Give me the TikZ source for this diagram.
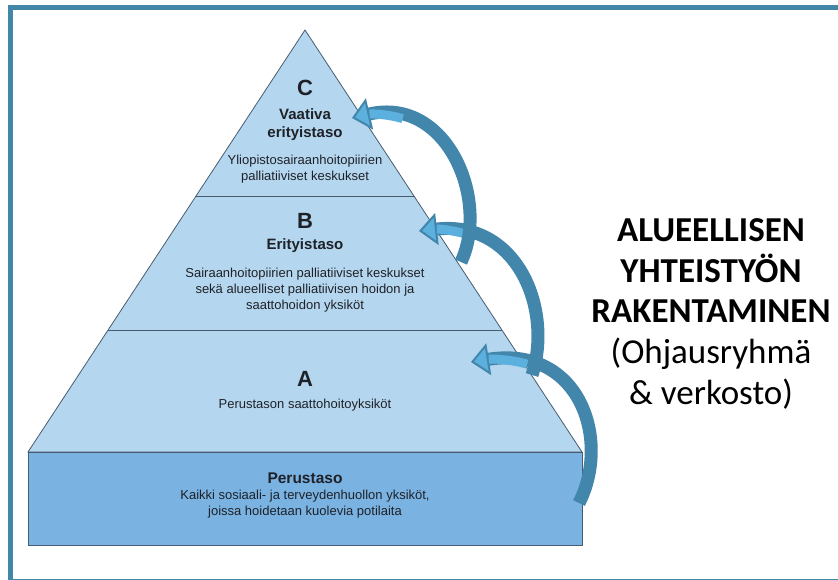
\documentclass[tikz,border=0pt]{standalone}
\usepackage{fontspec}
\setmainfont{Liberation Sans}
\newfontfamily\calibri{Carlito}
\usepackage{tikz}
\usetikzlibrary{arrows.meta}
\usetikzlibrary{calc}
\definecolor{levelfill}{RGB}{181,214,239}
\definecolor{basefill}{RGB}{122,178,226}
\definecolor{edgeline}{RGB}{72,92,112}
\definecolor{flowdark}{RGB}{67,134,172}
\definecolor{flowlight}{RGB}{92,176,222}
\definecolor{framecol}{RGB}{66,134,168}
\definecolor{inktext}{RGB}{30,34,40}
\tikzstyle{level}=[fill=levelfill,draw=edgeline,line width=0.8pt]
\tikzstyle{letter}=[anchor=base,font=\bfseries\fontsize{22}{25}\selectfont,text=inktext]
\tikzstyle{heading}=[anchor=base,align=center,font=\bfseries\fontsize{15}{18.3}\selectfont,text=inktext]
\tikzstyle{desc}=[anchor=base,align=center,font=\fontsize{13}{16}\selectfont,text=inktext]
\tikzstyle{caption}=[anchor=base,font=\calibri\fontsize{35}{40}\selectfont]
\tikzstyle{captionbold}=[caption,font=\calibri\bfseries\fontsize{35}{40}\selectfont]
\tikzstyle{flow}=[draw=flowdark,line width=13pt,-{Triangle[width=32pt,length=18pt,fill=flowlight,line width=2pt]}]
\tikzstyle{flowtop}=[draw=flowlight,line width=9pt,shorten >=18pt]

\begin{document}
\begin{tikzpicture}[x=1pt,y=-1pt]
	\clip (0,0) rectangle (838,579);
	\fill[white] (0,0) rectangle (838,579);
	\draw[framecol,line width=5pt] (10.5,7.5) rectangle (850,581);
	% pyramid
	\coordinate (apex) at (305,30);
	\coordinate (bl) at (28,452);
	\coordinate (br) at (582,452);
	\path[level] (apex) -- (br) -- (bl) -- cycle;
	\path[level,fill=basefill] (bl) rectangle (582,545);
	\draw[edgeline,line width=0.8pt] ($(apex)!0.395!(bl)$) -- ($(apex)!0.395!(br)$);
	\draw[edgeline,line width=0.8pt] ($(apex)!0.712!(bl)$) -- ($(apex)!0.712!(br)$);
	% levels
	\node[letter] (c) at (305,95) {C};
	\node[heading] (ch) at (305,137.3) {Vaativa\\erityistaso};
	\node[desc] (cd) at (305,180) {Yliopistosairaanhoitopiirien\\palliatiiviset keskukset};
	\node[letter] (b) at (305,228) {B};
	\node[heading] (bh) at (305,249) {Erityistaso};
	\node[desc] (bd) at (305,309.3) {Sairaanhoitopiirien palliatiiviset keskukset\\sekä alueelliset palliatiivisen hoidon ja\\saattohoidon yksiköt};
	\node[letter] (a) at (305,386) {A};
	\node[desc] (ad) at (305,408) {Perustason saattohoitoyksiköt};
	\node[heading,font=\bfseries\fontsize{15.5}{18}\selectfont] (ph) at (305,483) {Perustaso};
	\node[desc] (pd) at (305,515.5) {Kaikki sosiaali- ja terveydenhuollon yksiköt,\\joissa hoidetaan kuolevia potilaita};
	% caption
	\node[captionbold] (l1) at (711,241.7) {ALUEELLISEN};
	\node[captionbold] (l2) at (711,282.3) {YHTEISTYÖN};
	\node[captionbold] (l3) at (711,322.7) {RAKENTAMINEN};
	\node[caption] (l4) at (711,363.3) {(Ohjausryhmä};
	\node[caption] (l5) at (711,404) {\& verkosto)};
	% arrows
	\coordinate (t3) at (579,503);
	\coordinate (j3) at (527.2,364.1);
	\coordinate (h3) at (471,362);
	\coordinate (t2) at (532,375);
	\coordinate (j2) at (470.8,235.5);
	\coordinate (h2) at (419,231);
	\coordinate (t1) at (461,262);
	\coordinate (j1) at (402.6,118.6);
	\coordinate (h1) at (352,118);
	\draw[flow] (t3) .. controls (611,440) and (580,345) .. (h3);
	\draw[flowtop] (j3) .. controls (511.5,359.7) and (492.8,358.6) .. (h3);
	\draw[flow] (t2) .. controls (553,310) and (518,220) .. (h2);
	\draw[flowtop] (j2) .. controls (456.04,230.64) and (438.8,228.8) .. (h2);
	\draw[flow] (t1) .. controls (490,200) and (447,96) .. (h1);
	\draw[flowtop] (j1) .. controls (387.9,114.2) and (371,113.6) .. (h1);
\end{tikzpicture}
\end{document}
